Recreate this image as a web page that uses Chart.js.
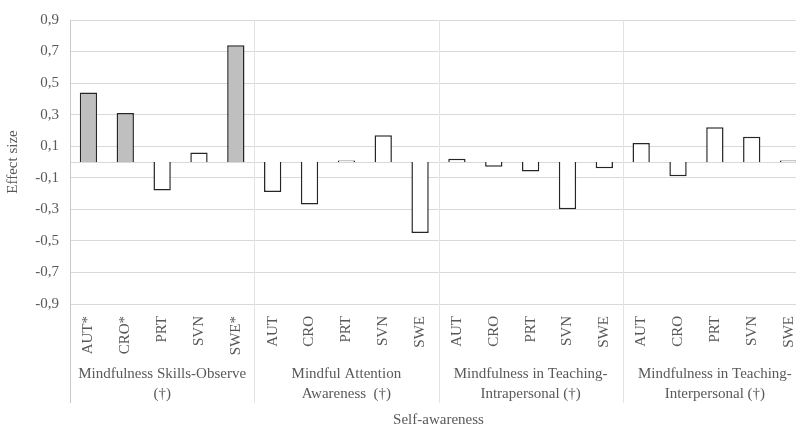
<!DOCTYPE html>
<html>
<head>
<meta charset="utf-8">
<script src="https://cdn.jsdelivr.net/npm/chart.js@4"></script>
<style>
  html, body { margin: 0; padding: 0; background: #fff; overflow: hidden; }
  #holder { width: 812px; height: 429px; }
</style>
</head>
<body>
<div id="holder"><canvas id="chart"></canvas></div>
<script>
// countries per scale, * = significant (grey fill)
const countries = [
  "AUT*", "CRO*", "PRT", "SVN", "SWE*",
  "AUT", "CRO", "PRT", "SVN", "SWE",
  "AUT", "CRO", "PRT", "SVN", "SWE",
  "AUT", "CRO", "PRT", "SVN", "SWE"
];
const effectSizes = [
  0.44, 0.31, -0.18, 0.06, 0.74,
  -0.19, -0.27, 0.01, 0.17, -0.45,
  0.02, -0.03, -0.06, -0.30, -0.04,
  0.12, -0.09, 0.22, 0.16, 0.01
];
const groups = [
  ["Mindfulness Skills-Observe", "(†)"],
  ["Mindful Attention", "Awareness  (†)"],
  ["Mindfulness in Teaching-", "Intrapersonal (†)"],
  ["Mindfulness in Teaching-", "Interpersonal (†)"]
];
const yMin = -0.9, yMax = 0.9, yStep = 0.2;

const grey = "#595959";
const serif = "'Liberation Serif', 'Times New Roman', serif";

// zero line, group dividers and left axis line
const dividers = {
  id: "dividers",
  beforeDatasetsDraw(chart) {
    const { ctx, chartArea, scales } = chart;
    const x = scales.x, y = scales.y;
    ctx.save();
    ctx.strokeStyle = "#d9d9d9";
    ctx.lineWidth = 1;
    const y0 = Math.round(y.getPixelForValue(0)) + 0.5;
    ctx.beginPath();
    ctx.moveTo(chartArea.left, y0);
    ctx.lineTo(chartArea.right, y0);
    ctx.stroke();
    const per = countries.length / groups.length;
    const bottom = scales.x2.top + 47;
    for (let g = 0; g <= groups.length; g++) {
      const px = Math.round(x.getPixelForValue(g * per - 0.5)) + 0.5;
      ctx.strokeStyle = g === 0 ? "#c8c8c8" : "#e3e3e3";
      ctx.beginPath();
      ctx.moveTo(px, chartArea.top);
      ctx.lineTo(px, bottom);
      ctx.stroke();
    }
    ctx.restore();
  }
};

new Chart(document.getElementById("chart"), {
  type: "bar",
  data: {
    labels: countries,
    datasets: [{
      data: effectSizes,
      backgroundColor: countries.map(c => c.endsWith("*") ? "#bfbfbf" : "#ffffff"),
      borderColor: "#262626",
      borderWidth: 1.5,
      categoryPercentage: 1,
      barPercentage: 0.47
    }]
  },
  options: {
    responsive: true,
    maintainAspectRatio: false,
    animation: false,
    layout: { padding: { top: 19, right: 5, left: 0, bottom: 0 } },
    plugins: { legend: { display: false }, tooltip: { enabled: false } },
    scales: {
      y: {
        min: yMin,
        max: yMax,
        ticks: {
          stepSize: yStep,
          color: grey,
          padding: 11,
          font: { family: serif, size: 15 },
          callback: v => v.toFixed(1).replace(".", ",")
        },
        grid: { color: "#d9d9d9", drawTicks: false },
        border: { display: false },
        title: { display: true, text: "Effect size", color: grey, font: { family: serif, size: 15 }, padding: { top: 4, bottom: 0 } },
        afterFit: s => { s.width = 70; }
      },
      x: {
        grid: { display: false },
        border: { display: false },
        ticks: {
          color: grey,
          font: { family: serif, size: 15 },
          minRotation: 90,
          maxRotation: 90,
          autoSkip: false,
          padding: 4
        },
        afterFit: s => { s.height = 52; }
      },
      x2: {
        type: "category",
        position: "bottom",
        labels: groups,
        offset: true,
        grid: { display: false },
        border: { display: false },
        ticks: {
          color: grey,
          font: { family: serif, size: 15, lineHeight: "20px" },
          maxRotation: 0,
          autoSkip: false,
          padding: 0
        },
        title: { display: true, text: "Self-awareness", color: grey, font: { family: serif, size: 15, lineHeight: "18px" }, padding: { top: 8, bottom: 0 } },
        afterFit: s => { s.height = 73; }
      }
    }
  },
  plugins: [dividers]
});
</script>
</body>
</html>
